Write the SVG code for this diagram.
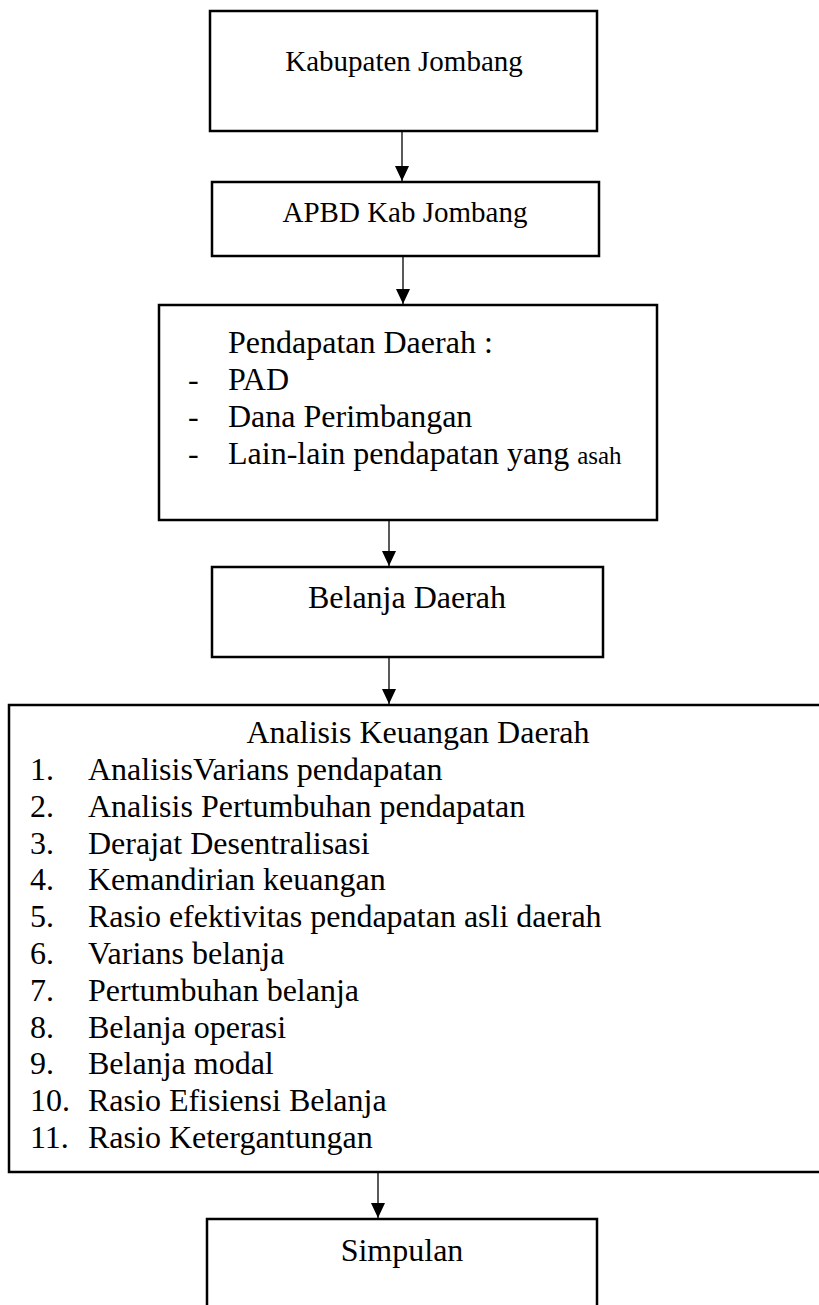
<svg xmlns="http://www.w3.org/2000/svg" width="819" height="1305" viewBox="0 0 819 1305">
<defs>
<style>
.box{fill:#fff;stroke:#000;stroke-width:2.5}
.t{font-family:"Liberation Serif","Times New Roman",serif;font-size:32px;fill:#000}
.c{text-anchor:middle}
.conn line{stroke:#000;stroke-width:1.3;marker-end:url(#ah)}
</style>
<marker id="ah" markerUnits="userSpaceOnUse" markerWidth="16" markerHeight="16" viewBox="0 0 16 16" refX="15" refY="8" orient="auto">
<path d="M0,1 L15,8 L0,15 Z" fill="#000"/>
</marker>
</defs>
<rect width="819" height="1305" fill="#fff"/>
<g id="connectors" class="conn">
<line x1="402" y1="131" x2="402" y2="181"/>
<line x1="403" y1="256" x2="403" y2="304"/>
<line x1="389" y1="520" x2="389" y2="566"/>
<line x1="389" y1="657" x2="389" y2="704"/>
<line x1="378" y1="1172" x2="378" y2="1218"/>
</g>
<g id="n1">
<rect class="box" x="210" y="11" width="387" height="120"/>
<text class="t c" x="404" y="71" style="font-size:29px">Kabupaten Jombang</text>
</g>
<g id="n2">
<rect class="box" x="212" y="182" width="387" height="74"/>
<text class="t c" x="405" y="222" style="font-size:29px">APBD Kab Jombang</text>
</g>
<g id="n3">
<rect class="box" x="159" y="305" width="498" height="215"/>
<text class="t" x="228" y="353">Pendapatan Daerah :</text>
<text class="t" x="188" y="390">-</text>
<text class="t" x="228" y="390">PAD</text>
<text class="t" x="188" y="427">-</text>
<text class="t" x="228" y="427">Dana Perimbangan</text>
<text class="t" x="188" y="464">-</text>
<text class="t" x="228" y="464">Lain-lain pendapatan yang <tspan style="font-size:25px">asah</tspan></text>
</g>
<g id="n4">
<rect class="box" x="212" y="567" width="391" height="90"/>
<text class="t c" x="407" y="608">Belanja Daerah</text>
</g>
<g id="n5">
<rect class="box" x="9" y="705" width="830" height="467"/>
<text class="t c" x="418" y="743">Analisis Keuangan Daerah</text>
<text class="t" x="30" y="780">1.</text><text class="t" x="88" y="780">AnalisisVarians pendapatan</text>
<text class="t" x="30" y="816.8">2.</text><text class="t" x="88" y="816.8">Analisis Pertumbuhan pendapatan</text>
<text class="t" x="30" y="853.6">3.</text><text class="t" x="88" y="853.6">Derajat Desentralisasi</text>
<text class="t" x="30" y="890.4">4.</text><text class="t" x="88" y="890.4">Kemandirian keuangan</text>
<text class="t" x="30" y="927.2">5.</text><text class="t" x="88" y="927.2">Rasio efektivitas pendapatan asli daerah</text>
<text class="t" x="30" y="964">6.</text><text class="t" x="88" y="964">Varians belanja</text>
<text class="t" x="30" y="1000.8">7.</text><text class="t" x="88" y="1000.8">Pertumbuhan belanja</text>
<text class="t" x="30" y="1037.6">8.</text><text class="t" x="88" y="1037.6">Belanja operasi</text>
<text class="t" x="30" y="1074.4">9.</text><text class="t" x="88" y="1074.4">Belanja modal</text>
<text class="t" x="30" y="1111.2">10.</text><text class="t" x="88" y="1111.2">Rasio Efisiensi Belanja</text>
<text class="t" x="30" y="1148">11.</text><text class="t" x="88" y="1148">Rasio Ketergantungan</text>
</g>
<g id="n6">
<rect class="box" x="207" y="1219" width="390" height="120"/>
<text class="t c" x="402" y="1261">Simpulan</text>
</g>
</svg>
